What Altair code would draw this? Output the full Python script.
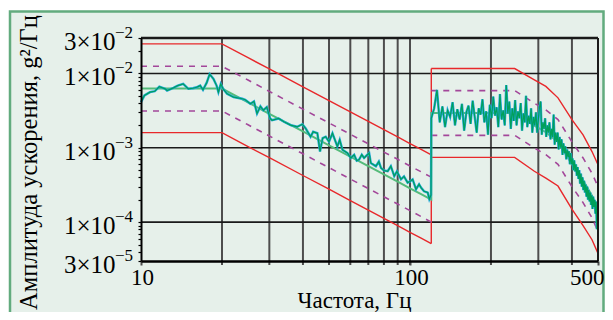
import altair as alt
import pandas as pd
import math

# ---------------- data ----------------
# low band (10-120 Hz) limit lines
lo_freq = [10, 20, 25, 30, 40, 50, 60, 70, 80, 90, 100, 110, 120]
lo_red_upper = [2.5e-2, 2.5e-2, 1.63e-2, 1.15e-2, 6.6e-3, 4.3e-3, 3.04e-3, 2.26e-3, 1.75e-3, 1.4e-3, 1.14e-3, 9.5e-4, 8.05e-4]
lo_red_lower = [1.6e-3, 1.6e-3, 1.04e-3, 7.35e-4, 4.24e-4, 2.77e-4, 1.95e-4, 1.45e-4, 1.12e-4, 8.96e-5, 7.3e-5, 6.08e-5, 5.15e-5]
lo_dash_upper = [1.25e-2, 1.25e-2, 8.15e-3, 5.74e-3, 3.31e-3, 2.16e-3, 1.52e-3, 1.13e-3, 8.75e-4, 7.0e-4, 5.7e-4, 4.75e-4, 4.03e-4]
lo_dash_lower = [3.13e-3, 3.13e-3, 2.04e-3, 1.44e-3, 8.3e-4, 5.4e-4, 3.8e-4, 2.83e-4, 2.19e-4, 1.75e-4, 1.43e-4, 1.19e-4, 1.0e-4]
lo_ref = [6.26e-3, 6.26e-3, 4.08e-3, 2.87e-3, 1.66e-3, 1.08e-3, 7.6e-4, 5.65e-4, 4.38e-4, 3.5e-4, 2.85e-4, 2.38e-4, 2.01e-4]

# high band (120-500 Hz) limit lines
hi_freq = [120, 245, 290, 320, 355, 400, 440, 475, 500]
hi_red_upper = [1.165e-2, 1.165e-2, 8.2e-3, 6.7e-3, 4.7e-3, 2.4e-3, 1.49e-3, 8.9e-4, 5.9e-4]
hi_red_lower = [7.43e-4, 7.43e-4, 4.84e-4, 3.9e-4, 3.06e-4, 1.5e-4, 9.0e-5, 5.8e-5, 3.8e-5]
hi_dash_upper = [5.88e-3, 5.88e-3, 3.98e-3, 3.24e-3, 2.4e-3, 1.2e-3, 7.3e-4, 4.54e-4, 3.0e-4]
hi_dash_lower = [1.47e-3, 1.47e-3, 9.95e-4, 8.1e-4, 6.0e-4, 3.0e-4, 1.83e-4, 1.14e-4, 7.5e-5]
hi_ref = [2.94e-3, 2.94e-3, 1.99e-3, 1.62e-3, 1.2e-3, 6.0e-4, 3.66e-4, 2.27e-4, 1.5e-4]

# measured spectrum, low band
lo_meas_freq = [10.0, 10.3, 10.8, 11.25, 11.7, 12.3, 12.5, 13.2, 13.7, 14.35,
                15.0, 15.6, 16.1, 16.6, 17.0, 17.55, 18.0, 18.6, 19.1, 19.4,
                19.8, 20.2, 20.9, 22.1, 23.8, 24.4, 25.5, 26.3, 27.0, 27.8,
                28.5, 29.35, 30.2, 30.7, 32.5, 34.0, 36.0, 38.1, 39.8, 40.9,
                42.7, 43.65, 45.25, 46.3, 47.35, 48.6, 50.0, 51.5, 53.7, 54.8,
                56.1, 58.55, 60.25, 62.0, 63.4, 64.7, 66.2, 67.5, 70.5, 71.5,
                74.7, 76.6, 78.0, 80.0, 82.6, 84.9, 87.4, 89.4, 92.6, 95.0,
                98.0, 100.0, 102.3, 105.3, 108.1, 109.9, 112.8, 116.4, 118.0, 119.7]
lo_meas_val = [4.12e-3, 5.06e-3, 5.6e-3, 5.77e-3, 6.66e-3, 6.21e-3, 5.89e-3, 6.4e-3, 6.87e-3, 7.23e-3,
               6.21e-3, 6.32e-3, 6.52e-3, 6.87e-3, 6.02e-3, 7.52e-3, 9.8e-3, 8.43e-3, 6.87e-3, 5.6e-3,
               7.23e-3, 6.21e-3, 5.33e-3, 4.8e-3, 4.57e-3, 4.43e-3, 3.92e-3, 4.21e-3, 2.89e-3, 3.61e-3,
               3.2e-3, 3.53e-3, 2.48e-3, 2.35e-3, 2.48e-3, 2.24e-3, 2.02e-3, 1.92e-3, 2.08e-3, 1.83e-3,
               1.41e-3, 1.64e-3, 1.57e-3, 8.93e-4, 1.35e-3, 1.41e-3, 1.21e-3, 1.57e-3, 1.04e-3, 1.28e-3,
               9.4e-4, 8.5e-4, 7.3e-4, 8.07e-4, 6.71e-4, 6.93e-4, 8.07e-4, 7.3e-4, 8.5e-4, 6.26e-4,
               5.65e-4, 6.52e-4, 5.37e-4, 4.95e-4, 4.84e-4, 5.65e-4, 4.16e-4, 4.8e-4, 3.76e-4, 4.12e-4,
               3.4e-4, 3.53e-4, 3.76e-4, 2.77e-4, 3.23e-4, 2.92e-4, 2.6e-4, 2.5e-4, 2.04e-4, 2.31e-4]

# measured spectrum, high band (values in 1e-3 g^2/Hz), 3 Hz steps 120..498
hi_meas_freq = list(range(120, 499, 3))
hi_meas_val_e3 = [2.5, 3.4, 6.0, 2.2, 3.6, 1.9, 3.2, 2.6, 4.1, 2.0,
                  3.3, 2.4, 3.9, 1.7, 3.0, 3.7, 2.1, 4.3, 2.6, 1.6,
                  3.4, 2.8, 4.5, 2.2, 3.1, 1.5, 3.8, 2.5, 4.9, 2.7,
                  3.5, 1.9, 5.3, 2.4, 3.2, 2.0, 7.0, 2.9, 4.2, 1.8,
                  3.4, 2.3, 4.4, 2.0, 3.1, 2.5, 4.0, 1.7, 2.9, 2.2,
                  5.0, 1.9, 2.7, 2.1, 3.4, 1.6, 2.6, 2.0, 3.0, 1.6,
                  2.4, 3.5, 4.2, 1.5, 2.2, 1.8, 2.5, 1.4, 2.0, 1.6,
                  2.2, 1.3, 1.8, 1.4, 2.8, 1.1, 1.6, 1.2, 1.6, 0.95,
                  1.4, 1.0, 1.3, 0.8, 1.15, 0.85, 1.05, 0.7, 0.95, 0.75,
                  0.9, 0.6, 0.85, 0.6, 0.72, 0.5, 0.68, 0.48, 0.6, 0.42,
                  0.55, 0.38, 0.5, 0.33, 0.45, 0.3, 0.4, 0.27, 0.36, 0.25,
                  0.32, 0.22, 0.3, 0.2, 0.27, 0.19, 0.25, 0.17, 0.23, 0.15,
                  0.22, 0.16, 0.2, 0.13, 0.19, 0.08, 0.17]

# axes
x_grid_values = [20, 30, 40, 50, 60, 70, 80, 90, 100, 200, 300, 400]
y_grid_values = [1e-2, 1e-3, 1e-4]
x_label_values = [10, 100, 500]
y_tick_values = [3e-5, 4e-5, 5e-5, 6e-5, 7e-5, 8e-5, 9e-5,
                 1e-4, 2e-4, 3e-4, 4e-4, 5e-4, 6e-4, 7e-4, 8e-4, 9e-4,
                 1e-3, 2e-3, 3e-3, 4e-3, 5e-3, 6e-3, 7e-3, 8e-3, 9e-3,
                 1e-2, 2e-2, 3e-2]
y_label_values = [3e-2, 1e-2, 1e-3, 1e-4, 3e-5]
y_label_mant = ["3×10", "1×10", "1×10", "1×10", "3×10"]
y_label_exp = ["−2", "−2", "−3", "−4", "−5"]
x_title = "Частота, Гц"
y_title = "Амплитуда ускорения, g²/Гц"

# ---------------- tables ----------------
def seg(name, fs, vs):
    return [{"f": f, "v": v, "seg": name, "i": k} for k, (f, v) in enumerate(zip(fs, vs))]

red_rows = (seg("lo_up", lo_freq, lo_red_upper) + seg("lo_dn", lo_freq, lo_red_lower)
            + seg("vert", [120, 120], [lo_red_lower[-1], hi_red_upper[0]])
            + seg("hi_up", hi_freq, hi_red_upper) + seg("hi_dn", hi_freq, hi_red_lower))
red_df = pd.DataFrame(red_rows)
dash_df = pd.DataFrame(seg("lo_up", lo_freq, lo_dash_upper) + seg("lo_dn", lo_freq, lo_dash_lower)
                       + seg("hi_up", hi_freq, hi_dash_upper) + seg("hi_dn", hi_freq, hi_dash_lower))
ref_df = pd.DataFrame(seg("ref", lo_freq + hi_freq, lo_ref + hi_ref))
meas_df = pd.DataFrame(seg("m", lo_meas_freq + hi_meas_freq,
                           lo_meas_val + [v * 1e-3 for v in hi_meas_val_e3]))
vgrid_df = pd.DataFrame({"f": x_grid_values})
hgrid_df = pd.DataFrame({"v": y_grid_values})
exp_df = pd.DataFrame({"v": y_label_values, "e": y_label_exp})
one_df = pd.DataFrame({"a": [0]})

# ---------------- chart ----------------
W, H = 457, 223
FONT = "Liberation Serif"
xs = alt.Scale(type="log", domain=[10, 500])
ys = alt.Scale(type="log", domain=[3e-5, 3e-2])

label_expr = " : ".join(
    f"abs(log(datum.value)/LN10 - ({math.log10(v):.4f})) < 0.01 ? '{m}'"
    for v, m in zip(y_label_values, y_label_mant)) + " : ''"

x_axis = alt.Axis(values=x_label_values, format="d", labelFont=FONT, labelFontSize=23,
                  labelColor="black", labelPadding=1, labelFlush=False,
                  labelAlign={"condition": {"test": "datum.value > 400", "value": "right"}, "value": "center"},
                  labelOffset={"condition": {"test": "datum.value > 400", "value": 6}, "value": 1},
                  ticks=True, tickSize=4, tickColor="#4D4D4D", tickWidth=2,
                  domain=True, domainColor="black", domainWidth=2.5, grid=False,
                  title=x_title, titleFont=FONT, titleFontSize=23, titleFontWeight="normal",
                  titleColor="black", titleX=213, titleY=46.5, titleBaseline="alphabetic",
                  titleAlign="center", zindex=1)
y_axis = alt.Axis(values=y_tick_values, labelExpr=label_expr, labelFont=FONT, labelFontSize=25,
                  labelColor="black", labelPadding=23, labelOffset=3.5, labelBaseline="middle",
                  labelAlign="right", labelOverlap=False,
                  ticks=True, tickSize=3, tickColor="black", tickWidth=1.2,
                  domain=True, domainColor="black", domainWidth=2, grid=False,
                  title=y_title, titleFont=FONT, titleFontSize=24.5, titleFontWeight="normal",
                  titleColor="black", titleAngle=270, titleX=-105, titleY=124,
                  titleBaseline="alphabetic", titleAlign="center", zindex=1)


def X():
    return alt.X("f:Q", scale=xs, axis=x_axis)


def Y():
    return alt.Y("v:Q", scale=ys, axis=y_axis)


frame = alt.Chart(one_df).mark_rect(fill="#E6F0EA", stroke="#62AB7E", strokeWidth=2.5).encode(
    x=alt.value(-131), x2=alt.value(462.5), y=alt.value(-26.5), y2=alt.value(300))

vgrid = alt.Chart(vgrid_df).mark_rule(color="#4D4D4D", strokeWidth=2).encode(
    x=X(), y=alt.value(0), y2=alt.value(H + 4))
hgrid = alt.Chart(hgrid_df).mark_rule(color="#1A1A1A", strokeWidth=1.6).encode(
    y=Y(), x=alt.value(0), x2=alt.value(W))
top_border = alt.Chart(one_df).mark_rule(color="#1A1A1A", strokeWidth=2.4).encode(
    x=alt.value(0), x2=alt.value(W), y=alt.value(0))
right_border = alt.Chart(one_df).mark_rule(color="#1A1A1A", strokeWidth=2).encode(
    x=alt.value(W), y=alt.value(0), y2=alt.value(H))

red = alt.Chart(red_df).mark_line(color="#E8282B", strokeWidth=1.4).encode(
    x=X(), y=Y(), detail="seg:N", order="i:Q")
dash = alt.Chart(dash_df).mark_line(color="#A3479A", strokeWidth=1.6, strokeDash=[6, 6]).encode(
    x=X(), y=Y(), detail="seg:N", order="i:Q")
ref = alt.Chart(ref_df).mark_line(color="#55BB7A", strokeWidth=2).encode(
    x=X(), y=Y(), order="i:Q")
meas_c = alt.Chart(meas_df).mark_line(color="#25A8E0", strokeWidth=2.4).encode(
    x=X(), y=Y(), order="i:Q")
meas_g = alt.Chart(meas_df).mark_line(color="#00A05A", strokeWidth=1.2).encode(
    x=X(), y=Y(), order="i:Q")
exps = alt.Chart(exp_df).mark_text(align="left", baseline="middle", dy=-5, font=FONT,
                                   fontSize=17, color="black").encode(
    y=Y(), x=alt.value(-26), text="e:N")

chart = alt.layer(frame, vgrid, hgrid, red, dash, ref, meas_c, meas_g, top_border,
                  right_border, exps).properties(
    width=W, height=H,
    autosize=alt.AutoSizeParams(type="none"),
    padding={"left": 133, "top": 30, "right": 7, "bottom": 51},
    background="white",
).configure_view(strokeWidth=0)

chart.save("out.html", embed_options={"renderer": "svg", "actions": False})
